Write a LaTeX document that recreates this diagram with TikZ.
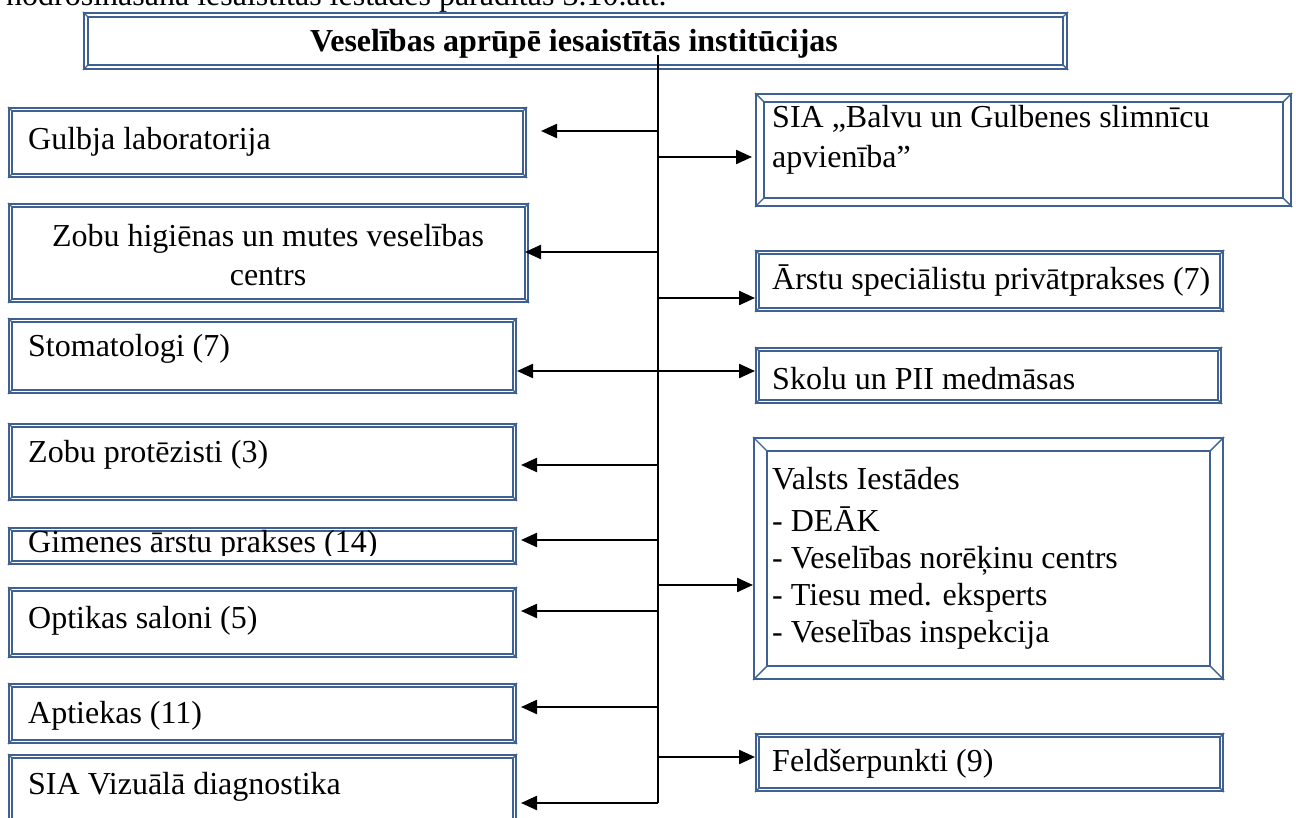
\documentclass[tikz,border=0pt]{standalone}
\usepackage{fontspec}
\setmainfont{Liberation Serif}
\usetikzlibrary{arrows.meta}
\definecolor{boxblue}{RGB}{62,96,146}
\tikzset{
  frame/.style={draw=boxblue,line width=2pt,inner sep=0pt,anchor=north west},
  bevelline/.style={boxblue,line width=1.4pt},
  lbl/.style={anchor=base west,inner sep=0pt,font=\fontsize{32}{37}\selectfont},
  link/.style={line width=2.3pt,-{Triangle[length=16pt,width=14pt]}},
  link2/.style={line width=2.3pt,{Triangle[length=16pt,width=14pt]}-{Triangle[length=16pt,width=14pt]}}
}
% inner frame of a bevelled box: #1 node, #2 inset
\newcommand\bevel[2]{%
  \draw[bevelline] ([xshift=#2,yshift=-#2]#1.north west) rectangle ([xshift=-#2,yshift=#2]#1.south east);
  \draw[bevelline] (#1.north west)--++(#2,-#2) (#1.north east)--++(-#2,-#2)
    (#1.south west)--++(#2,#2) (#1.south east)--++(-#2,#2);}
\begin{document}
\begin{tikzpicture}[x=1pt,y=-1pt,line join=round]
			\useasboundingbox (0,0) rectangle (1296,818);
			% text of the page above the chart
			\node[lbl] (intro) at (6,6) {nodrošināšanā iesaistītās iestādes parādītas 3.10.att.};
			% title
			\node[frame,minimum width=983pt,minimum height=56pt] (title) at (83,12) {};
			\bevel{title}{5pt}
			\node[lbl,anchor=base,font=\fontsize{32}{37}\selectfont\bfseries] (title-t) at (574,52) {Veselības aprūpē iesaistītās institūcijas};
			% left column
			\node[frame,minimum width=517pt,minimum height=69pt] (gulbja) at (8,107) {};
			\node[frame,minimum width=519pt,minimum height=98pt] (zobhig) at (8,203) {};
			\node[frame,minimum width=507pt,minimum height=74pt] (stomat) at (8,318) {};
			\node[frame,minimum width=507pt,minimum height=76pt] (protez) at (8,423) {};
			\node[frame,minimum width=507pt,minimum height=36pt] (gimen) at (8,527) {};
			\node[frame,minimum width=507pt,minimum height=69pt] (optika) at (8,587) {};
			\node[frame,minimum width=507pt,minimum height=59pt] (aptiek) at (8,683) {};
			\node[frame,minimum width=507pt,minimum height=80pt] (vizual) at (8,754) {};
			\foreach \n in {gulbja,zobhig,stomat,protez,gimen,optika,aptiek,vizual} {\bevel{\n}{4pt}}
			\node[lbl] (gulbja-t) at (28,150) {Gulbja laboratorija};
			\node[lbl,anchor=base,align=center] (zobhig-t) at (268,286) {Zobu higiēnas un mutes veselības\\[2pt]centrs};
			\node[lbl] (stomat-t) at (28,356) {Stomatologi (7)};
			\node[lbl] (protez-t) at (28,462) {Zobu protēzisti (3)};
			\begin{scope}
				\clip (12,520) rectangle (510,555);
				\node[lbl] (gimen-t) at (28,552) {Gimenes ārstu prakses (14)};
			\end{scope}
			\node[lbl] (optika-t) at (28,628) {Optikas saloni (5)};
			\node[lbl] (aptiek-t) at (28,723) {Aptiekas (11)};
			\node[lbl] (vizual-t) at (28,794) {SIA Vizuālā diagnostika};
			% right column
			\node[frame,minimum width=535pt,minimum height=112pt] (balvu) at (755,93) {};
			\bevel{balvu}{9pt}
			\node[frame,minimum width=467pt,minimum height=60pt] (arstu) at (755,250) {};
			\node[frame,minimum width=465pt,minimum height=55pt] (skolu) at (755,347) {};
			\node[frame,minimum width=469pt,minimum height=241pt] (valsts) at (753,437) {};
			\bevel{valsts}{14pt}
			\node[frame,minimum width=467pt,minimum height=57pt] (feld) at (755,733) {};
			\foreach \n in {arstu,skolu,feld} {\bevel{\n}{4pt}}
			\node[lbl,align=left] (balvu-t) at (772,168) {SIA „Balvu un Gulbenes slimnīcu\\[3pt]apvienība”};
			\node[lbl] (arstu-t) at (772,290) {Ārstu speciālistu privātprakses (7)};
			\node[lbl] (skolu-t) at (772,389) {Skolu un PII medmāsas};
			\node[lbl] (valsts-t) at (772,489) {Valsts Iestādes};
			\node[lbl,align=left] (valsts-l) at (772,642) {- DEĀK\\- Veselības norēķinu centrs\\- Tiesu med. eksperts\\- Veselības inspekcija};
			\node[lbl] (feld-t) at (772,771) {Feldšerpunkti (9)};
			% trunk and branches
			\coordinate (trtop) at (658,55);
			\coordinate (trbot) at (658,803);
			\draw[line width=2.3pt] (trtop)--(trbot);
			\coordinate (l1) at (658,131);
			\coordinate (l2) at (658,252);
			\coordinate (m3) at (658,371);
			\coordinate (l4) at (658,465);
			\coordinate (l5) at (658,540);
			\coordinate (l6) at (658,611);
			\coordinate (l7) at (658,707);
			\coordinate (r1) at (658,157);
			\coordinate (r2) at (658,298);
			\coordinate (r5) at (658,585);
			\coordinate (r6) at (658,757);
			\draw[link] (l1)--([xshift=14pt]gulbja.east |- l1);
			\draw[link] (l2)--([xshift=-4pt]zobhig.east |- l2);
			\draw[link2] (stomat.east |- m3)--(skolu.west |- m3);
			\draw[link] (l4)--([xshift=4pt]protez.east |- l4);
			\draw[link] (l5)--([xshift=4pt]gimen.east |- l5);
			\draw[link] (l6)--([xshift=4pt]optika.east |- l6);
			\draw[link] (l7)--([xshift=4pt]aptiek.east |- l7);
			\draw[link] (trbot)--([xshift=4pt]vizual.east |- trbot);
			\draw[link] (r1)--([xshift=-3pt]balvu.west |- r1);
			\draw[link] (r2)--(arstu.west |- r2);
			\draw[link] (r5)--(valsts.west |- r5);
			\draw[link] (r6)--(feld.west |- r6);
		\end{tikzpicture}
\end{document}
